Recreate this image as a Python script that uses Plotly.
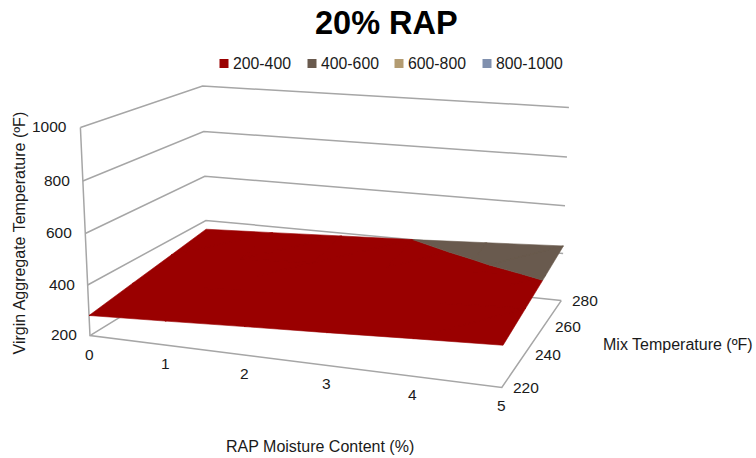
import numpy as np
import plotly.graph_objects as go

# Surface data: virgin aggregate temperature by RAP moisture and mix temperature
moisture = [0, 1, 2, 3, 4, 5]
mix_temp = [220, 240, 260, 280]
virgin_temp = [
    [280, 294, 309, 323, 338, 352],
    [307, 320, 335, 349, 363, 378],
    [333, 347, 361, 375, 390, 404],
    [360, 373, 387, 400, 416, 432],
]
z_ticks = [200, 400, 600, 800, 1000]
band_names = ["200-400", "400-600", "600-800", "800-1000"]
band_colors = ["#9A0000", "#695A4E", "#B39C72", "#8090AE"]

frame_color = "#A6A6A6"
text_color = "#1a1a1a"
font_family = "Liberation Sans, Arial, sans-serif"
W, H = 756, 458

# Projection matrix of the chart box (unit cube to page pixels)
CAMERA = np.array([
    [362.74581, 153.92540, -12.50886, 89.97235],
    [13.89281, -24.56930, -212.77406, 335.61268],
    [-0.09784, 0.17871, -0.03656, 1.0],
])


def project(mx, tp, vt):
    """Perspective projection of chart coordinates onto the page."""
    mx, tp, vt = (np.asarray(a, float) for a in (mx, tp, vt))
    cube = np.array([mx / 5, (tp - 220) / 60, (vt - 200) / 800, np.ones_like(mx)])
    sx, sy, sw = CAMERA @ cube
    return sx / sw, sy / sw


def clip(poly, level, keep_above):
    """Cut a polygon of (moisture, mix, virgin) vertices at a virgin temperature level."""
    out = []
    for i in range(len(poly)):
        a, b = poly[i], poly[(i + 1) % len(poly)]
        in_a = a[2] >= level if keep_above else a[2] <= level
        in_b = b[2] >= level if keep_above else b[2] <= level
        if in_a:
            out.append(a)
        if in_a != in_b:
            t = (level - a[2]) / (b[2] - a[2])
            out.append(tuple(a[k] + t * (b[k] - a[k]) for k in range(3)))
    return out


fig = go.Figure()


def wire(xs, ys, zs):
    px, py = project(xs, ys, zs)
    fig.add_trace(go.Scatter(x=px, y=py, mode="lines", line=dict(color=frame_color, width=1.5),
                             showlegend=False, hoverinfo="skip"))


# Walls and floor outline
for level in z_ticks:
    wire([0, 0, 5], [220, 280, 280], [level] * 3)
wire([0, 0, 5, 5], [220, 220, 220, 280], [1000, 200, 200, 200])

# Surface, split into the temperature bands
for k, name in enumerate(band_names):
    lo, hi = z_ticks[k], z_ticks[k + 1]
    xs, ys = [], []
    for j in range(len(mix_temp) - 1):
        for i in range(len(moisture) - 1):
            c = [(moisture[i + a], mix_temp[j + b], virgin_temp[j + b][i + a])
                 for a, b in ((0, 0), (1, 0), (1, 1), (0, 1))]
            for tri in ([c[0], c[1], c[2]], [c[0], c[2], c[3]]):
                piece = clip(tri, lo, True)
                piece = clip(piece, hi, False) if piece else piece
                if len(piece) >= 3:
                    m, t, v = zip(*piece)
                    px, py = project(m, t, v)
                    xs += list(px) + [px[0], None]
                    ys += list(py) + [py[0], None]
    if xs:
        fig.add_trace(go.Scatter(x=xs, y=ys, mode="lines", fill="toself", fillcolor=band_colors[k],
                                 line=dict(color=band_colors[k], width=0.6), showlegend=False, name=name))

# Band key above the plot
key_x = [224, 312, 399, 487]
fig.add_trace(go.Scatter(x=key_x, y=[63.5] * 4, mode="markers",
                         marker=dict(symbol="square", size=9, color=band_colors),
                         showlegend=False, hoverinfo="skip"))

notes = []
for name, kx in zip(band_names, key_x):
    notes.append(dict(x=kx + 6.5, y=63, text=name, xanchor="left", font=dict(size=15.8, color=text_color)))
for level in z_ticks:
    px, py = project([0], [220], [level])
    notes.append(dict(x=px[0], y=py[0], text=str(level), xanchor="right", xshift=-11, yshift=1,
                      font=dict(size=15.5, color=text_color)))
for m in moisture:
    px, py = project([m], [220], [200])
    notes.append(dict(x=px[0], y=py[0], text=str(m), yshift=-18.5, font=dict(size=15.5, color=text_color)))
for t in mix_temp:
    px, py = project([5], [t], [200])
    notes.append(dict(x=px[0], y=py[0], text=str(t), xshift=24, font=dict(size=15.5, color=text_color)))

title_font = dict(size=16, color=text_color)
notes += [
    dict(x=18.5, y=233, text="Virgin Aggregate Temperature (ºF)", textangle=-90, font=title_font),
    dict(x=678, y=344, text="Mix Temperature (ºF)", font=title_font),
    dict(x=320, y=446, text="RAP Moisture Content (%)", font=title_font),
    dict(x=386.5, y=23, text="<b>20% RAP</b>", font=dict(size=32.5, color="black")),
]
for n in notes:
    n.update(xref="x", yref="y", showarrow=False, yanchor="middle")

fig.update_layout(width=W, height=H, margin=dict(l=0, r=0, t=0, b=0), paper_bgcolor="white", plot_bgcolor="white",
                  font=dict(family=font_family), annotations=notes, showlegend=False,
                  xaxis=dict(visible=False, range=[0, W], fixedrange=True),
                  yaxis=dict(visible=False, range=[H, 0], fixedrange=True))
fig.write_html("out.html", config=dict(displayModeBar=False))
